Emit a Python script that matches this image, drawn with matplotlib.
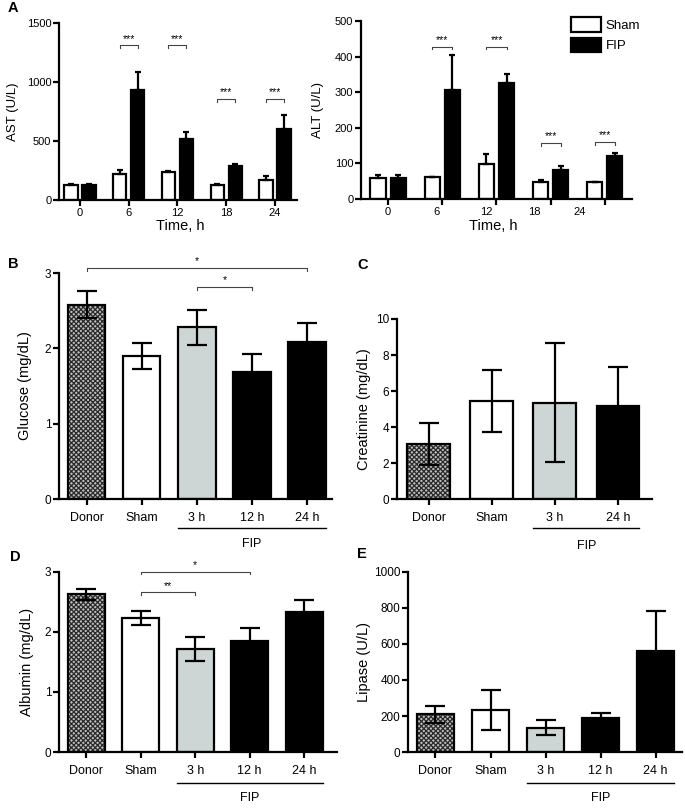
import numpy as np
import matplotlib
matplotlib.use("Agg")
import matplotlib.pyplot as plt

plt.rcParams['font.family'] = ['Liberation Sans', 'DejaVu Sans']
plt.rcParams['hatch.linewidth'] = 0.9

# ---- data ----
time_labels = ['0', '6', '12', '18', '24']

ast_sham = [125, 220, 235, 130, 172]
ast_sham_err = [8, 35, 8, 8, 32]
ast_fip = [127, 932, 515, 290, 600]
ast_fip_err = [5, 155, 65, 15, 120]

alt_sham = [58, 62, 97, 48, 48]
alt_sham_err = [10, 1, 29, 4, 1]
alt_fip = [60, 306, 327, 82, 121]
alt_fip_err = [8, 98, 24, 11, 9]

groups5 = ['Donor', 'Sham', '3 h', '12 h', '24 h']
groups4 = ['Donor', 'Sham', '3 h', '24 h']

glucose = [2.58, 1.90, 2.28, 1.68, 2.08]
glucose_err = [0.18, 0.17, 0.235, 0.25, 0.25]
creatinine = [3.07, 5.47, 5.36, 5.18]
creatinine_err = [1.18, 1.72, 3.33, 2.14]
albumin = [2.63, 2.23, 1.71, 1.85, 2.33]
albumin_err = [0.09, 0.12, 0.20, 0.21, 0.21]
lipase = [210, 232, 136, 191, 563]
lipase_err = [48, 112, 44, 28, 218]

GREY = '#cdd6d4'
LW = 1.6


def style_axes(ax, yticks, fs=8.5):
    for s in ['top', 'right']:
        ax.spines[s].set_visible(False)
    for s in ['left', 'bottom']:
        ax.spines[s].set_linewidth(LW)
    ax.set_yticks(yticks)
    ax.set_ylim(yticks[0], yticks[-1])
    ax.tick_params(width=LW, length=4, labelsize=fs, pad=1.5)


def bracket(ax, x1, x2, y, text, drop):
    ax.plot([x1, x1, x2, x2], [y - drop, y, y, y - drop], color='#444444',
            lw=0.8, clip_on=False)
    ax.text((x1 + x2) / 2, y + drop * 0.6, text, ha='center', va='bottom',
            fontsize=7.5, clip_on=False)


def time_panel(ax, sham, sham_err, fip, fip_err, yticks, w, off):
    x = np.arange(len(time_labels))
    ax.bar(x - off, sham, w, color='white', edgecolor='black', linewidth=LW, zorder=2)
    ax.bar(x + off, fip, w, color='black', edgecolor='black', linewidth=LW, zorder=2)
    ax.errorbar(x - off, sham, yerr=[np.zeros(5), sham_err], fmt='none',
                ecolor='black', elinewidth=LW, capsize=2.5, capthick=LW, zorder=3)
    ax.errorbar(x + off, fip, yerr=[np.zeros(5), fip_err], fmt='none',
                ecolor='black', elinewidth=LW, capsize=2.5, capthick=LW, zorder=3)
    style_axes(ax, yticks, fs=8)
    ax.set_xticks(x)
    return x


def group_panel(ax, labels, vals, errs, yticks, fills, fip_px, fip_txt_px, xmax):
    x = np.arange(len(labels))
    w = 0.68
    for xi, v, f in zip(x, vals, fills):
        if f == 'hatch':
            ax.bar(xi, v, w, color='#bdbdbd', edgecolor='#2a2a2a', hatch='xxxxxxx',
                   linewidth=0, zorder=2)
            ax.bar(xi, v, w, fill=False, edgecolor='black', linewidth=LW, zorder=2)
        else:
            ax.bar(xi, v, w, color=f, edgecolor='black', linewidth=LW, zorder=2)
    ax.errorbar(x, vals, yerr=errs, fmt='none', ecolor='black', elinewidth=LW,
                capsize=7, capthick=LW, zorder=3)
    style_axes(ax, yticks, fs=8.5)
    ax.set_xticks(x)
    ax.set_xticklabels(labels, fontsize=9)
    ax.tick_params(axis='x', pad=5)
    ax.set_xlim(-0.5, xmax)
    # FIP group line under the tick labels
    h = ax.bbox.height
    tr = ax.get_xaxis_transform()
    ax.plot([2 - w / 2, len(labels) - 1 + w / 2], [-fip_px / h, -fip_px / h],
            color='black', lw=1.0, transform=tr, clip_on=False)
    ax.text((2 + len(labels) - 1) / 2, -fip_txt_px / h, 'FIP', ha='center',
            va='center', fontsize=9, transform=tr)
    return x


fig = plt.figure(figsize=(6.85, 8.08), dpi=100)

# ---- A left: AST ----
axA1 = fig.add_axes([0.0861, 0.7525, 0.3474, 0.2191])
x = time_panel(axA1, ast_sham, ast_sham_err, ast_fip, ast_fip_err,
               [0, 500, 1000, 1500], 0.27, 0.185)
axA1.set_xticklabels(time_labels)
axA1.set_xlim(-0.43, 4.45)
axA1.set_ylabel('AST (U/L)', fontsize=9.5)
axA1.yaxis.set_label_coords(-0.17, 0.5)
axA1.set_xlabel('Time, h', fontsize=10.5)
axA1.xaxis.set_label_coords(0.508, -0.105)
for i, y in [(1, 1310), (2, 1310), (3, 855), (4, 855)]:
    bracket(axA1, x[i] - 0.185, x[i] + 0.185, y, '***', 25)

# ---- A right: ALT ----
axA2 = fig.add_axes([0.527, 0.7537, 0.3956, 0.2203])
x = time_panel(axA2, alt_sham, alt_sham_err, alt_fip, alt_fip_err,
               [0, 100, 200, 300, 400, 500], 0.28, 0.185)
axA2.set_xticklabels([])
axA2.xaxis.remove_overlapping_locs = False
alt_label_pos = [0, 0.89, 1.81, 2.69, 3.54]
axA2.set_xticks(alt_label_pos, minor=True)
axA2.set_xticklabels(time_labels, minor=True)
axA2.tick_params(axis='x', which='minor', length=0, labelsize=8, pad=5.5)
axA2.set_xlim(-0.5, 4.5)
axA2.set_ylabel('ALT (U/L)', fontsize=9.5)
axA2.yaxis.set_label_coords(-0.137, 0.5)
axA2.set_xlabel('Time, h', fontsize=10.5)
axA2.xaxis.set_label_coords(0.487, -0.115)
for i, y in [(1, 428), (2, 428), (3, 157), (4, 160)]:
    bracket(axA2, x[i] - 0.185, x[i] + 0.185, y, '***', 8)
h_sham = plt.Rectangle((0, 0), 1, 1, facecolor='white', edgecolor='black', linewidth=LW)
h_fip = plt.Rectangle((0, 0), 1, 1, facecolor='black', edgecolor='black', linewidth=LW)
axA2.legend([h_sham, h_fip], ['Sham', 'FIP'], loc='upper left',
            bbox_to_anchor=(0.73, 1.09), frameon=False, fontsize=9.5,
            handlelength=2.3, handleheight=1.35, handletextpad=0.35, labelspacing=0.45)

# ---- B: glucose ----
axB = fig.add_axes([0.0861, 0.3824, 0.3985, 0.2797])
x = group_panel(axB, groups5, glucose, glucose_err, [0, 1, 2, 3],
                ['hatch', 'white', GREY, 'black', 'black'], 29, 45, 4.45)
axB.set_ylabel('Glucose (mg/dL)', fontsize=10.5)
axB.yaxis.set_label_coords(-0.1, 0.5)
bracket(axB, x[0], x[4], 3.07, '*', 0.04)
bracket(axB, x[2], x[3], 2.82, '*', 0.04)

# ---- C: creatinine ----
axC = fig.add_axes([0.5796, 0.3824, 0.3723, 0.2228])
x = group_panel(axC, groups4, creatinine, creatinine_err, [0, 2, 4, 6, 8, 10],
                ['hatch', 'white', GREY, 'black'], 29, 47, 3.54)
axC.set_ylabel('Creatinine (mg/dL)', fontsize=10.5)
axC.yaxis.set_label_coords(-0.102, 0.5)

# ---- D: albumin ----
axD = fig.add_axes([0.0861, 0.0693, 0.4058, 0.2228])
x = group_panel(axD, groups5, albumin, albumin_err, [0, 1, 2, 3],
                ['hatch', 'white', GREY, 'black', 'black'], 31, 46, 4.6)
axD.set_ylabel('Albumin (mg/dL)', fontsize=10.5)
axD.yaxis.set_label_coords(-0.09, 0.5)
bracket(axD, x[1], x[3], 3.0, '*', 0.04)
bracket(axD, x[1], x[2], 2.66, '**', 0.04)

# ---- E: lipase ----
axE = fig.add_axes([0.5956, 0.0693, 0.40, 0.2228])
x = group_panel(axE, groups5, lipase, lipase_err, [0, 200, 400, 600, 800, 1000],
                ['hatch', 'white', GREY, 'black', 'black'], 31, 46, 4.48)
axE.set_ylabel('Lipase (U/L)', fontsize=10.5)
axE.yaxis.set_label_coords(-0.135, 0.5)

# panel letters
for lab, px, py in [('A', 8, 8), ('B', 8, 264), ('C', 357, 265),
                    ('D', 10, 557), ('E', 357, 554)]:
    fig.text(px / 685, 1 - py / 808, lab, fontsize=10.5, fontweight='bold',
             ha='left', va='center')

fig.savefig('out.png', dpi=100)
